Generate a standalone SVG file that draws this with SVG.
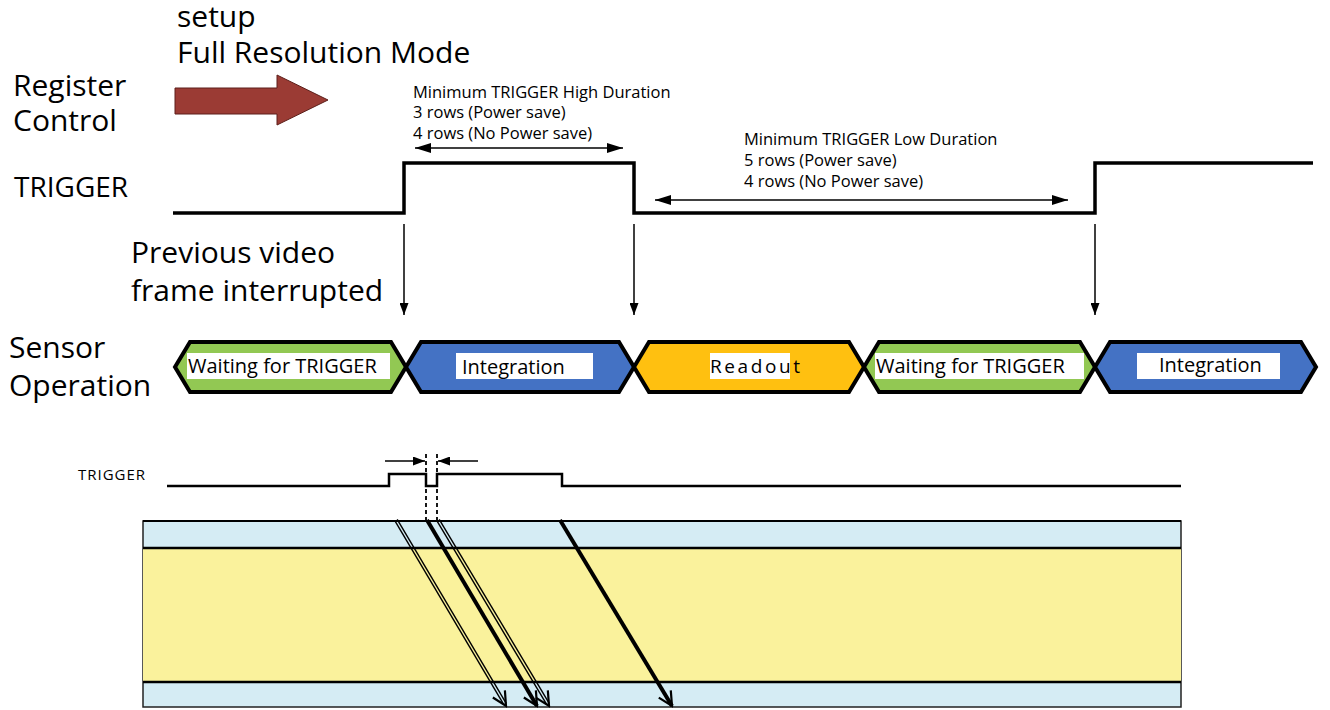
<svg xmlns="http://www.w3.org/2000/svg" width="1330" height="710" viewBox="0 0 1330 710">
  <style>
    .lbl { font-family: "Open Sans", "Liberation Sans", Arial, sans-serif; fill: #000; }
    .big { font-size: 30px; }
    .mid { font-size: 28px; }
    .note { font-size: 16.5px; }
    .box { font-size: 20px; }
    .wave { fill: none; stroke: #000; stroke-width: 3.5; stroke-linejoin: miter; }
    .wave2 { fill: none; stroke: #000; stroke-width: 2.5; stroke-linejoin: miter; }
    .hex { stroke: #000; stroke-width: 4; stroke-linejoin: miter; }
    .thin { fill: none; stroke: #000; stroke-width: 1.5; }
    .dash { fill: none; stroke: #000; stroke-width: 1.8; stroke-dasharray: 4 3; }
    .ray { fill: none; stroke: #000; stroke-width: 1.4; }
    .rayThick { fill: none; stroke: #000; stroke-width: 4; }
  </style>
  <defs>
    <marker id="tri" viewBox="0 0 16 10" refX="16" refY="5" markerWidth="16" markerHeight="10" markerUnits="userSpaceOnUse" orient="auto-start-reverse">
      <path d="M0,0 L16,5 L0,10 Z" fill="#000"/>
    </marker>
    <marker id="triNarrow" viewBox="0 0 12 9" refX="12" refY="4.5" markerWidth="12" markerHeight="9" markerUnits="userSpaceOnUse" orient="auto">
      <path d="M0,0 L12,4.5 L0,9 Z" fill="#000"/>
    </marker>
    <marker id="vee" viewBox="-16 -9 18 18" refX="0" refY="0" markerWidth="18" markerHeight="18" markerUnits="userSpaceOnUse" orient="auto">
      <path d="M-14,-7 L0,0 L-14,7" fill="none" stroke="#000" stroke-width="2.2"/>
    </marker>
  </defs>

  <rect width="1330" height="710" fill="#fff"/>

  <!-- row labels -->
  <g id="labels">
    <text class="lbl big" x="177" y="27">setup</text>
    <text class="lbl big" x="177" y="63">Full Resolution Mode</text>
    <text class="lbl big" x="13" y="96">Register</text>
    <text class="lbl big" x="13" y="131">Control</text>
    <text class="lbl mid" x="14" y="197">TRIGGER</text>
    <text class="lbl big" x="131" y="263">Previous video</text>
    <text class="lbl big" x="131" y="301">frame interrupted</text>
    <text class="lbl big" x="9" y="358">Sensor</text>
    <text class="lbl big" x="9" y="396">Operation</text>
  </g>

  <!-- register write arrow -->
  <g id="register-arrow">
    <path d="M175,88 H277 V75 L328,100 L277,125 V114 H175 Z" fill="#9B3B34" stroke="#5c1f1a" stroke-width="1"/>
  </g>

  <!-- trigger timing notes -->
  <g id="high-note">
    <text class="lbl note" x="413" y="98">Minimum TRIGGER High Duration</text>
    <text class="lbl note" x="413" y="118">3 rows (Power save)</text>
    <text class="lbl note" x="413" y="139">4 rows (No Power save)</text>
  </g>
  <g id="low-note">
    <text class="lbl note" x="744" y="145">Minimum TRIGGER Low Duration</text>
    <text class="lbl note" x="744" y="166">5 rows (Power save)</text>
    <text class="lbl note" x="744" y="187">4 rows (No Power save)</text>
  </g>

  <!-- trigger waveform -->
  <g id="trigger-wave">
    <path class="wave" d="M173,213 H404 V163 H634 V213 H1095 V163 H1313"/>
  </g>

  <!-- sensor operation phases -->
  <g id="phase-wait-1">
    <polygon class="hex" points="175,367 190,342 391,342 406,367 391,392 190,392" fill="#92C853"/>
    <rect x="187" y="353" width="203" height="26" fill="#fff"/>
    <text class="lbl box" x="188" y="373">Waiting for TRIGGER</text>
  </g>
  <g id="phase-integration-1">
    <polygon class="hex" points="406,367 421,342 619,342 634,367 619,392 421,392" fill="#4472C4"/>
    <rect x="456" y="353" width="137" height="26" fill="#fff"/>
    <text class="lbl box" x="462" y="374">Integration</text>
  </g>
  <g id="phase-readout">
    <polygon class="hex" points="634,367 649,342 849,342 864,367 849,392 649,392" fill="#FFC010"/>
    <rect x="710" y="353" width="80" height="26" fill="#fff"/>
    <text class="lbl box" x="710" y="373" style="font-size:19px; letter-spacing:2.6px">Readout</text>
  </g>
  <g id="phase-wait-2">
    <polygon class="hex" points="864,367 879,342 1080,342 1095,367 1080,392 879,392" fill="#92C853"/>
    <rect x="875" y="353" width="209" height="26" fill="#fff"/>
    <text class="lbl box" x="876" y="373">Waiting for TRIGGER</text>
  </g>
  <g id="phase-integration-2">
    <polygon class="hex" points="1095,367 1110,342 1301,342 1316,367 1301,392 1110,392" fill="#4472C4"/>
    <rect x="1137" y="353" width="143" height="26" fill="#fff"/>
    <text class="lbl box" x="1159" y="372">Integration</text>
  </g>

  <!-- pixel array bands -->
  <g id="array">
    <rect x="143" y="521" width="1038" height="186" fill="#D5ECF4" stroke="#222" stroke-width="1.5"/>
    <rect x="143" y="548" width="1038" height="134" fill="#FAF29C"/>
    <line x1="143" y1="548" x2="1181" y2="548" stroke="#000" stroke-width="2.5"/>
    <line x1="143" y1="682" x2="1181" y2="682" stroke="#000" stroke-width="2.5"/>
    <line x1="143" y1="521" x2="1181" y2="521" stroke="#000" stroke-width="2"/>
  </g>

  <!-- row-level trigger detail -->
  <g id="trigger-detail">
    <text class="lbl" x="78" y="480" style="font-size:15px; letter-spacing:1px">TRIGGER</text>
    <path class="wave2" d="M167,486 H389 V474 H426 V486 H437 V474 H562 V486 H1181"/>
  </g>

  <!-- connectors -->
  <g id="connectors">
    <line class="thin" x1="415" y1="148" x2="623" y2="148" marker-start="url(#tri)" marker-end="url(#tri)"/>
    <line class="thin" x1="655" y1="200" x2="1068" y2="200" marker-start="url(#tri)" marker-end="url(#tri)"/>

    <line class="thin" x1="404" y1="224" x2="404" y2="315" marker-end="url(#triNarrow)"/>
    <line class="thin" x1="634" y1="224" x2="634" y2="315" marker-end="url(#triNarrow)"/>
    <line class="thin" x1="1095" y1="224" x2="1095" y2="315" marker-end="url(#triNarrow)"/>

    <line class="dash" x1="426" y1="454" x2="426" y2="520"/>
    <line class="dash" x1="437" y1="454" x2="437" y2="520"/>
    <line class="thin" x1="385" y1="461" x2="425" y2="461" marker-end="url(#triNarrow)"/>
    <line class="thin" x1="478" y1="461" x2="438" y2="461" marker-end="url(#triNarrow)"/>

    <!-- row sweeps across the array -->
    <line class="ray" x1="397.2" y1="519.3" x2="506.2" y2="703.3"/>
    <line class="ray" x1="394.8" y1="520.7" x2="503.8" y2="704.7"/>
    <path d="M396,520 L506,706" fill="none" stroke="none" marker-end="url(#vee)"/>

    <line class="rayThick" x1="427" y1="520" x2="537" y2="706" marker-end="url(#vee)"/>

    <line class="ray" x1="439.2" y1="519.3" x2="549.2" y2="703.3"/>
    <line class="ray" x1="436.8" y1="520.7" x2="546.8" y2="704.7"/>
    <path d="M438,520 L549,706" fill="none" stroke="none" marker-end="url(#vee)"/>

    <line class="rayThick" x1="560" y1="520" x2="672" y2="706" marker-end="url(#vee)"/>
  </g>
</svg>
